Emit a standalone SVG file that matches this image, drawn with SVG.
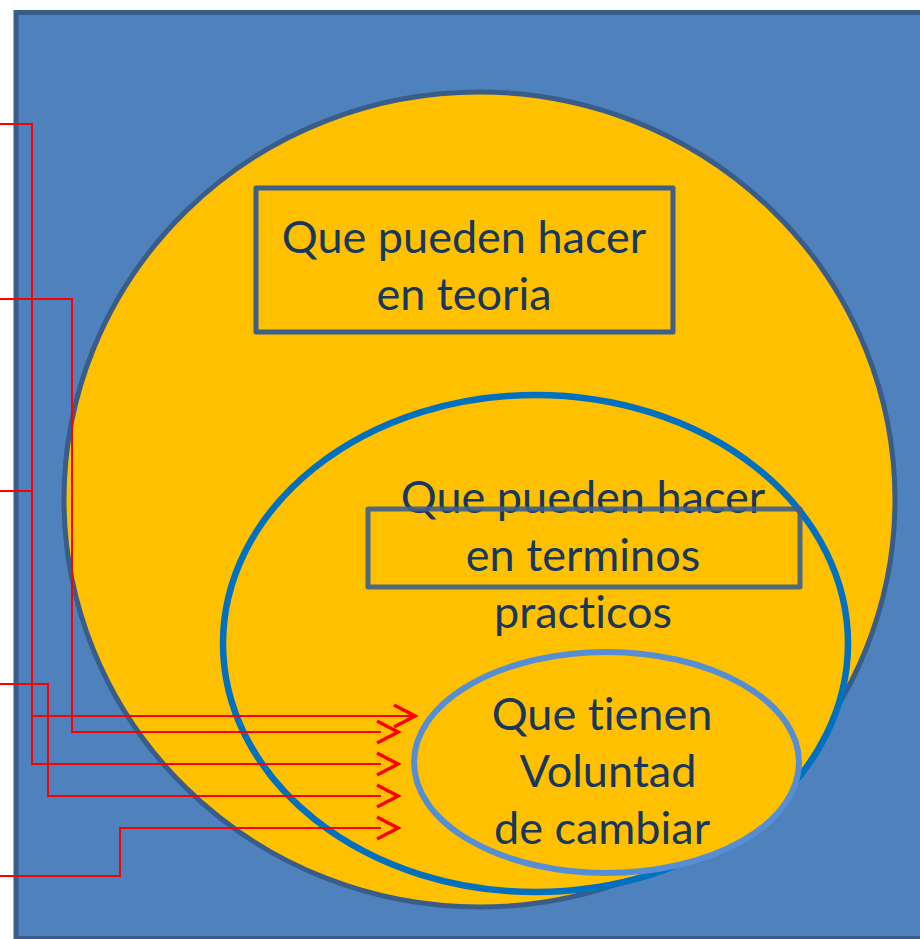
<svg xmlns="http://www.w3.org/2000/svg" width="920" height="939" viewBox="0 0 920 939">
  <style>
    .lbl { font-family: Lato, "Open Sans", "Liberation Sans", sans-serif; font-size: 45px; fill: #17375E; text-anchor: middle; font-variant-ligatures: none; }
    .box { fill: none; stroke: #3E5F8A; stroke-width: 5; stroke-linejoin: round; }
    .conn { fill: none; stroke: #FF0000; stroke-width: 2; }
    .chev { fill: none; stroke: #FF0000; stroke-width: 3.5; }
  </style>
  <defs>
    <marker id="chev" markerUnits="userSpaceOnUse" markerWidth="30" markerHeight="30" refX="0" refY="0" orient="auto" overflow="visible">
      <path class="chev" d="M-4,-11 L17,0 L-4,11"/>
    </marker>
    <marker id="chev-tip" markerUnits="userSpaceOnUse" markerWidth="30" markerHeight="30" refX="0" refY="0" orient="auto" overflow="visible">
      <path class="chev" d="M-20,-11 L1,0 L-20,11"/>
    </marker>
  </defs>
  <g id="background">
    <rect x="16" y="12.5" width="920" height="926" fill="#4F81BD" stroke="#385D8A" stroke-width="5"/>
  </g>
  <g id="outer-ellipse">
    <ellipse cx="479.5" cy="499.5" rx="415.5" ry="407.5" fill="#FFC000" stroke="#385D8A" stroke-width="5"/>
  </g>
  <g id="box-teoria">
    <text class="lbl" x="464" y="253">Que pueden hacer</text>
    <text class="lbl" x="464" y="310">en teoria</text>
    <rect class="box" x="256" y="188" width="417" height="144"/>
  </g>
  <g id="middle-ellipse">
    <ellipse cx="535.5" cy="643.5" rx="312.5" ry="248.5" fill="#FFC000" stroke="#0070C0" stroke-width="6.5"/>
  </g>
  <g id="box-practicos">
    <text class="lbl" x="583" y="513">Que pueden hacer</text>
    <text class="lbl" x="583" y="571">en terminos</text>
    <text class="lbl" x="583" y="628">practicos</text>
    <rect class="box" x="368" y="509" width="432" height="78" stroke-opacity="0.9"/>
  </g>
  <g id="inner-ellipse">
    <ellipse cx="606.5" cy="762.5" rx="192.5" ry="110.5" fill="#FFC000" stroke="#558ED5" stroke-width="6"/>
    <text class="lbl" x="602" y="730">Que tienen</text>
    <text class="lbl" x="608" y="787">Voluntad</text>
    <text class="lbl" x="602" y="844">de cambiar</text>
  </g>
  <g id="connectors">
    <path class="conn" d="M0,124 H32 V764 H381" marker-end="url(#chev)"/>
    <path class="conn" d="M0,491 H32"/>
    <path class="conn" d="M32,716 H414" marker-end="url(#chev-tip)"/>
    <path class="conn" d="M0,299 H72 V732 H381" marker-end="url(#chev)"/>
    <path class="conn" d="M0,684 H48 V796 H381" marker-end="url(#chev)"/>
    <path class="conn" d="M0,876 H120 V828 H381" marker-end="url(#chev)"/>
  </g>
</svg>
